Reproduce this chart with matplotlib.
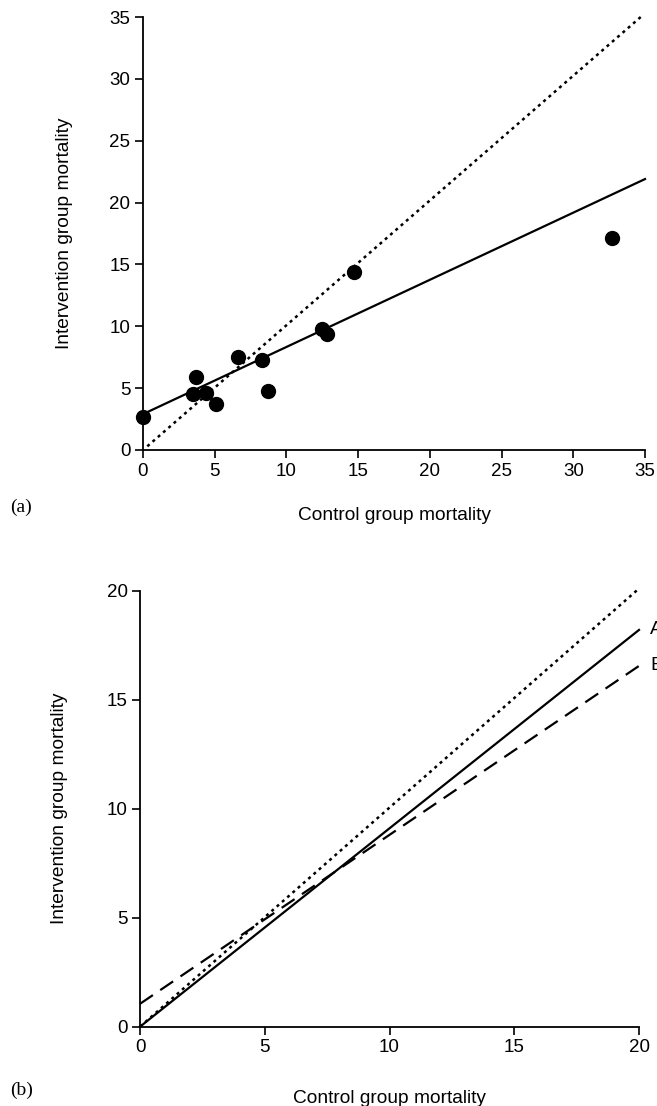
import matplotlib
matplotlib.use("Agg")
import matplotlib.pyplot as plt
import numpy as np

# ---- data ----
control = [0.0, 3.5, 3.7, 4.4, 5.1, 6.6, 8.3, 8.7, 12.5, 12.8, 14.7, 32.7]
intervention = [2.7, 4.5, 5.9, 4.6, 3.7, 7.5, 7.3, 4.8, 9.8, 9.4, 14.4, 17.1]
fit_a_x = [0.0, 35.0]
fit_a_y = [2.9, 21.9]
identity_a_x = [0.3, 34.9]
identity_a_y = [0.3, 35.2]

b_x = [0.0, 20.0]
b_identity_y = [0.0, 20.1]
b_A_y = [0.0, 18.2]
b_B_y = [1.05, 16.55]

ticks_a = [0, 5, 10, 15, 20, 25, 30, 35]
ticks_b = [0, 5, 10, 15, 20]

plt.rcParams['font.family'] = ['Liberation Sans', 'DejaVu Sans']
plt.rcParams['font.size'] = 12

fig = plt.figure(figsize=(6.57, 11.06), dpi=100)
ax1 = fig.add_axes([143/657, 1-450/1106, 502/657, 433/1106])
ax2 = fig.add_axes([140/657, 1-1026.7/1106, 499/657, 436/1106])

def style(ax):
    for s in ['top', 'right']:
        ax.spines[s].set_visible(False)
    for s in ['left', 'bottom']:
        ax.spines[s].set_linewidth(1.3)
    ax.tick_params(direction='out', length=6, width=1.2, pad=3, labelsize=13.5)

LBL = 13.8

# panel a
ax1.plot(identity_a_x, identity_a_y, linestyle=(0, (1.2, 1.6)), color='black', lw=1.8, clip_on=False)
ax1.plot(fit_a_x, fit_a_y, color='black', lw=1.6, clip_on=False)
ax1.plot(control, intervention, 'o', color='black', markersize=10, clip_on=False, zorder=5)
ax1.set_xlim(0, 35)
ax1.set_ylim(0, 35)
ax1.set_xticks(ticks_a)
ax1.set_yticks(ticks_a)
style(ax1)
ax1.set_xlabel('Control group mortality', fontsize=LBL)
ax1.set_ylabel('Intervention group mortality', fontsize=LBL)
ax1.xaxis.set_label_coords(0.5, -0.132)
ax1.yaxis.set_label_coords(-0.139, 0.5)

# panel b
ax2.plot(b_x, b_identity_y, linestyle=(0, (1.2, 1.6)), color='black', lw=1.8, clip_on=False)
ax2.plot(b_x, b_A_y, color='black', lw=1.6, clip_on=False)
ax2.plot(b_x, b_B_y, linestyle=(0, (7, 4)), color='black', lw=1.6, clip_on=False)
ax2.text(20.45, b_A_y[1], 'A', ha='left', va='center', fontsize=LBL, clip_on=False)
ax2.text(20.45, b_B_y[1], 'B', ha='left', va='center', fontsize=LBL, clip_on=False)
ax2.set_xlim(0, 20)
ax2.set_ylim(0, 20)
ax2.set_xticks(ticks_b)
ax2.set_yticks(ticks_b)
style(ax2)
ax2.set_xlabel('Control group mortality', fontsize=LBL)
ax2.set_ylabel('Intervention group mortality', fontsize=LBL)
ax2.xaxis.set_label_coords(0.5, -0.145)
ax2.yaxis.set_label_coords(-0.144, 0.5)

fig.text(10/657, 1-507/1106, '(a)', family=['Liberation Serif', 'DejaVu Serif'], fontsize=14, ha='left', va='center')
fig.text(10/657, 1-1090/1106, '(b)', family=['Liberation Serif', 'DejaVu Serif'], fontsize=14, ha='left', va='center')

fig.savefig('out.png', dpi=100)
